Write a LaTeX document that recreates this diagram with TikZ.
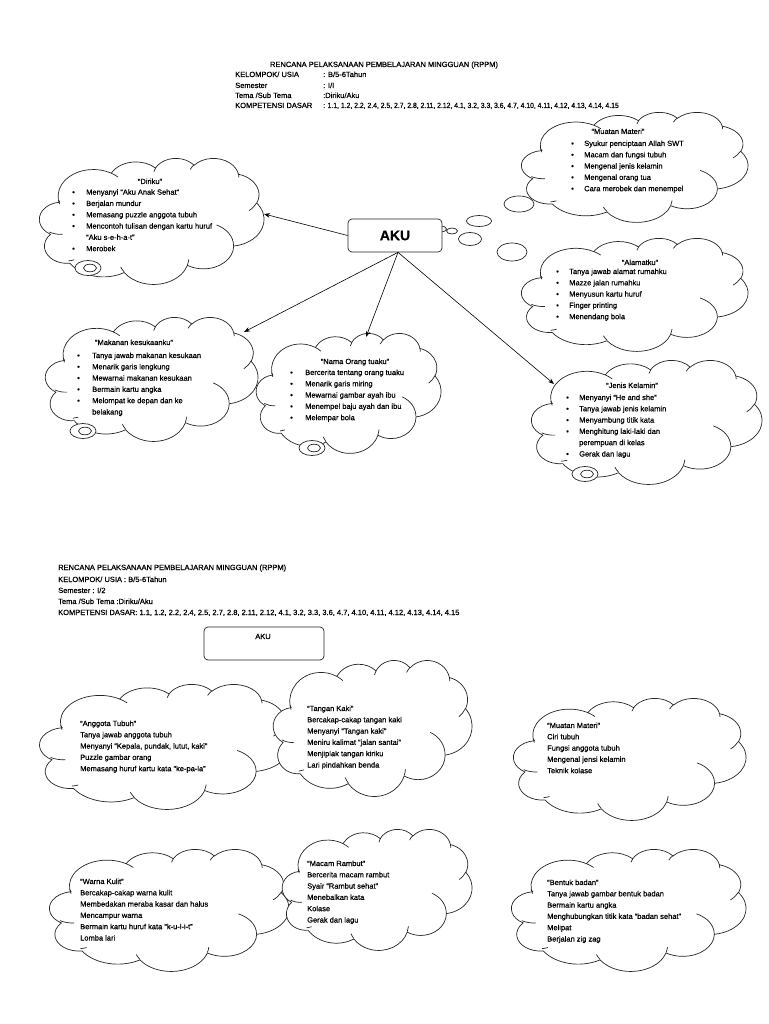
\documentclass[tikz,border=0pt]{standalone}
\usepackage{fontspec}
\setmainfont{Liberation Sans}[FakeBold=0.6]
\usetikzlibrary{arrows.meta}
\makeatletter
\newcommand\cprep[5]{%
  \pgfmathsetmacro\cp@a{atan2((#2)*sin(#4),(#3)*cos(#4))}%
  \pgfmathsetmacro\cp@b{atan2((#2)*sin((#4)+(#5)),(#3)*cos((#4)+(#5)))}%
  \pgfmathsetmacro\cp@d{mod(\cp@b-\cp@a+720,360)}%
  \expandafter\xdef\csname cS#1\endcsname{\cp@a}%
  \expandafter\xdef\csname cD#1\endcsname{\cp@d}%
}
\makeatother
\cprep{a}{67.53}{91.90}{-190.4875}{123.7805}
\cprep{b}{53.33}{72.67}{-144.1024}{89.9452}
\cprep{c}{43.65}{59.45}{-145.8079}{99.7230}
\cprep{d}{48.57}{65.95}{-130.9861}{117.2417}
\cprep{e}{53.33}{72.73}{-78.7089}{109.0269}
\cprep{f}{67.75}{92.20}{-46.2673}{130.2690}
\cprep{g}{57.85}{78.67}{0.6250}{114.0333}
\cprep{h}{67.52}{92.15}{22.4516}{115.1726}
\cprep{i}{77.20}{105.43}{66.2426}{71.2560}
\cprep{j}{43.60}{59.18}{-274.9421}{146.7356}
\cprep{k}{43.45}{59.45}{-246.8285}{152.5189}
\cprep{na}{43.45}{59.45}{86.7420}{26.4295}
\cprep{nb}{43.60}{59.18}{73.6105}{11.4475}
\cprep{nc}{67.52}{92.15}{137.6242}{14.0811}
\cprep{nd}{67.52}{92.15}{6.4533}{15.9984}
\cprep{ne}{57.85}{78.67}{-70.2924}{70.9174}
\cprep{nf}{53.33}{72.73}{30.3180}{27.7515}
\cprep{ng}{48.57}{65.95}{-13.7443}{14.8589}
\cprep{nh}{48.57}{65.95}{-149.1815}{18.1954}
\cprep{ni}{43.65}{59.45}{-163.4943}{17.6864}
\cprep{nj}{67.53}{91.90}{-66.7070}{12.3194}
\cprep{nk}{67.53}{91.90}{157.6544}{11.8582}
\newcommand\drawcloud[4]{%
  \pgfmathsetmacro\cwx{(#3)/432}%
  \pgfmathsetmacro\cwy{(#4)/432}%
  \begin{scope}[shift={(#1,#2)},x=\cwx pt,y=-\cwy pt]
    \draw[cloudline,fill=white] (39.00,143.70)
      arc[start angle=\cSa,delta angle=\cDa,x radius=67.53,y radius=91.90]
      arc[start angle=\cSb,delta angle=\cDb,x radius=53.33,y radius=72.67]
      arc[start angle=\cSc,delta angle=\cDc,x radius=43.65,y radius=59.45]
      arc[start angle=\cSd,delta angle=\cDd,x radius=48.57,y radius=65.95]
      arc[start angle=\cSe,delta angle=\cDe,x radius=53.33,y radius=72.73]
      arc[start angle=\cSf,delta angle=\cDf,x radius=67.75,y radius=92.20]
      arc[start angle=\cSg,delta angle=\cDg,x radius=57.85,y radius=78.67]
      arc[start angle=\cSh,delta angle=\cDh,x radius=67.52,y radius=92.15]
      arc[start angle=\cSi,delta angle=\cDi,x radius=77.20,y radius=105.43]
      arc[start angle=\cSj,delta angle=\cDj,x radius=43.60,y radius=59.18]
      arc[start angle=\cSk,delta angle=\cDk,x radius=43.45,y radius=59.45]
      -- cycle;
    \draw[cloudline]
      (46.93,261.77) arc[start angle=\cSna,delta angle=\cDna,x radius=43.45,y radius=59.45]
      (69.28,348.99) arc[start angle=\cSnb,delta angle=\cDnb,x radius=43.60,y radius=59.18]
      (164.78,390.90) arc[start angle=\cSnc,delta angle=\cDnc,x radius=67.52,y radius=92.15]
      (288.27,347.51) arc[start angle=\cSnd,delta angle=\cDnd,x radius=67.52,y radius=92.15]
      (341.29,229.54) arc[start angle=\cSne,delta angle=\cDne,x radius=57.85,y radius=78.67]
      (417.98,153.54) arc[start angle=\cSnf,delta angle=\cDnf,x radius=53.33,y radius=72.73]
      (383.24,54.26) arc[start angle=\cSng,delta angle=\cDng,x radius=48.57,y radius=65.95]
      (290.78,39.52) arc[start angle=\cSnh,delta angle=\cDnh,x radius=48.57,y radius=65.95]
      (221.41,47.20) arc[start angle=\cSni,delta angle=\cDni,x radius=43.65,y radius=59.45]
      (140.00,51.92) arc[start angle=\cSnj,delta angle=\cDnj,x radius=67.53,y radius=91.90]
      (41.27,157.89) arc[start angle=\cSnk,delta angle=\cDnk,x radius=67.53,y radius=91.90];
  \end{scope}}
\newcommand\tailbub[2]{%
  \draw[cloudline,fill=white] (#1,#2) ellipse[x radius=13,y radius=7.5];
  \draw[cloudline,fill=white] (#1+2,#2) ellipse[x radius=6.5,y radius=3.8];}
\begin{document}
\begin{tikzpicture}[x=1pt,y=-1pt,
  cloudline/.style={draw=black!85,line width=0.7pt},
  hdr/.style={font=\fontsize{7.5}{9}\selectfont,inner sep=0pt},
  ctext/.style={font=\fontsize{7.5}{11.3}\selectfont,inner sep=0pt,anchor=base west},
  ctitle/.style={font=\fontsize{7.5}{11.3}\selectfont,inner sep=0pt,anchor=base},
  akubox/.style={draw=black!85,line width=0.7pt,rounded corners=4pt,fill=white},
  arr/.style={draw=black,line width=0.6pt,-{Stealth[length=6pt,width=4.5pt]}}]
\fill[white] (0,0) rectangle (768,1024);
\useasboundingbox (0,0) rectangle (768,1024);

% ---------- top header ----------
\node[hdr,anchor=base] (h1title) at (384,67) {RENCANA PELAKSANAAN PEMBELAJARAN MINGGUAN (RPPM)};
\node[hdr,anchor=base west] (h1k) at (235,77) {KELOMPOK/ USIA};
\node[hdr,anchor=base west] (h1kv) at (323,77) {: B/5-6Tahun};
\node[hdr,anchor=base west] (h1s) at (235,88) {Semester};
\node[hdr,anchor=base west] (h1sv) at (323,88) {: I/I};
\node[hdr,anchor=base west] (h1t) at (235,98) {Tema /Sub Tema};
\node[hdr,anchor=base west] (h1tv) at (323,98) {:Diriku/Aku};
\node[hdr,anchor=base west] (h1d) at (235,108) {KOMPETENSI DASAR};
\node[hdr,anchor=base west] (h1dv) at (323,108) {\scalebox{0.91}[1]{: 1.1, 1.2, 2.2, 2.4, 2.5, 2.7, 2.8, 2.11, 2.12, 4.1, 3.2, 3.3, 3.6, 4.7, 4.10, 4.11, 4.12, 4.13, 4.14, 4.15}};

% ---------- tail bubbles pointing to AKU ----------
\draw[cloudline,fill=white] (519,204) ellipse[x radius=15,y radius=8];
\draw[cloudline,fill=white] (479,221) ellipse[x radius=12.5,y radius=5.5];
\draw[cloudline,fill=white] (452,231) ellipse[x radius=5.5,y radius=3];
\draw[cloudline,fill=white] (512,252) ellipse[x radius=15,y radius=9];
\draw[cloudline,fill=white] (470,239) ellipse[x radius=11.5,y radius=6.5];
\draw[cloudline,fill=white] (441,229) ellipse[x radius=5.5,y radius=3];

% ---------- top clouds ----------
\drawcloud{38}{158}{226}{126}
\drawcloud{520}{112}{228}{110}
\drawcloud{520}{238}{228}{113}
\drawcloud{44}{317}{214}{124}
\drawcloud{255}{333}{186}{120}
\drawcloud{530}{360}{232}{124}
\tailbub{88}{268}
\tailbub{83}{431}
\tailbub{312}{448}
\tailbub{585}{474}

% ---------- AKU ----------
\node[akubox,minimum width=94pt,minimum height=33pt,font=\fontsize{14}{16}\selectfont\bfseries] (aku) at (395,235.5) {AKU};
\coordinate (tipDiriku) at (264,214);
\coordinate (tipMakanan) at (244,332);
\coordinate (tipNama) at (366,337);
\coordinate (tipJenis) at (554,384);
\draw[arr] (aku.west) -- (tipDiriku);
\draw[arr] ([xshift=3pt]aku.south) -- (tipMakanan);
\draw[arr] ([xshift=3pt]aku.south) -- (tipNama);
\draw[arr] ([xshift=3pt]aku.south) -- (tipJenis);

% ---------- top cloud texts ----------
\node[ctitle] (c1t) at (150,184) {“Diriku”};
\node[ctext] (c1) at (72,194.7) {\begin{tabular}[t]{@{}p{14pt}@{}l@{}}
\textbullet & Menyanyi “Aku Anak Sehat”\\
\textbullet & Berjalan mundur\\
\textbullet & Memasang puzzle anggota tubuh\\
\textbullet & Mencontoh tulisan dengan kartu huruf\\
 & “Aku s-e-h-a-t”\\
\textbullet & Merobek\end{tabular}};

\node[ctitle] (c2t) at (618,134) {“Muatan Materi”};
\node[ctext] (c2) at (571,146) {\begin{tabular}[t]{@{}p{13pt}@{}l@{}}
\textbullet & Syukur penciptaan Allah SWT\\
\textbullet & Macam dan fungsi tubuh\\
\textbullet & Mengenal jenis kelamin\\
\textbullet & Mengenal orang tua\\
\textbullet & Cara merobek dan menempel\end{tabular}};

\node[ctitle] (c3t) at (640,265) {“Alamatku”};
\node[ctext] (c3) at (556,274) {\begin{tabular}[t]{@{}p{13pt}@{}l@{}}
\textbullet & Tanya jawab alamat rumahku\\
\textbullet & Mazze jalan rumahku\\
\textbullet & Menyusun kartu huruf\\
\textbullet & Finger printing\\
\textbullet & Menendang bola\end{tabular}};

\node[ctitle] (c4t) at (134,345) {“Makanan kesukaanku”};
\node[ctext] (c4) at (77,358) {\begin{tabular}[t]{@{}p{15pt}@{}l@{}}
\textbullet & Tanya jawab makanan kesukaan\\
\textbullet & Menarik garis lengkung\\
\textbullet & Mewarnai makanan kesukaan\\
\textbullet & Bermain kartu angka\\
\textbullet & Melompat ke depan dan ke\\
 & belakang\end{tabular}};

\node[ctitle] (c5t) at (355,364) {“Nama Orang tuaku”};
\node[ctext] (c5) at (290,375) {\begin{tabular}[t]{@{}p{15pt}@{}l@{}}
\textbullet & Bercerita tentang orang tuaku\\
\textbullet & Menarik garis miring\\
\textbullet & Mewarnai gambar ayah ibu\\
\textbullet & Menempel baju ayah dan ibu\\
\textbullet & Melempar bola\end{tabular}};

\node[ctitle] (c6t) at (632,388) {“Jenis Kelamin”};
\node[ctext] (c6) at (566,400) {\begin{tabular}[t]{@{}p{13pt}@{}l@{}}
\textbullet & Menyanyi “He and she”\\
\textbullet & Tanya jawab jenis kelamin\\
\textbullet & Menyambung titik kata\\
\textbullet & Menghitung laki-laki dan\\
 & perempuan di kelas\\
\textbullet & Gerak dan lagu\end{tabular}};

% ---------- bottom header ----------
\node[hdr,anchor=base west] (h2a) at (58,570) {RENCANA PELAKSANAAN PEMBELAJARAN MINGGUAN (RPPM)};
\node[hdr,anchor=base west] (h2b) at (58,582) {KELOMPOK/ USIA : B/5-6Tahun};
\node[hdr,anchor=base west] (h2c) at (58,593) {Semester : I/2};
\node[hdr,anchor=base west] (h2d) at (58,604) {Tema /Sub Tema :Diriku/Aku};
\node[hdr,anchor=base west] (h2e) at (58,615) {KOMPETENSI DASAR: 1.1, 1.2, 2.2, 2.4, 2.5, 2.7, 2.8, 2.11, 2.12, 4.1, 3.2, 3.3, 3.6, 4.7, 4.10, 4.11, 4.12, 4.13, 4.14, 4.15};

\node[akubox,minimum width=120pt,minimum height=33pt] (aku2) at (264,643.5) {};
\node[hdr,anchor=base] (aku2t) at (263,639) {AKU};

% ---------- bottom clouds ----------
\drawcloud{38}{684}{252}{125}
\drawcloud{272}{660}{200}{136}
\drawcloud{512}{698}{234}{122}
\drawcloud{48}{849}{241}{122}
\drawcloud{281}{829}{191}{121}
\drawcloud{510}{849}{236}{122}

\node[ctext] (b1) at (80,726) {\begin{tabular}[t]{@{}l@{}}
“Anggota Tubuh”\\
Tanya jawab anggota tubuh\\
Menyanyi “Kepala, pundak, lutut, kaki”\\
Puzzle gambar orang\\
Memasang huruf kartu kata “ke-pa-la”\end{tabular}};

\node[ctext] (b2) at (307,711) {\begin{tabular}[t]{@{}l@{}}
“Tangan Kaki”\\
Bercakap-cakap tangan kaki\\
Menyanyi “Tangan kaki”\\
Meniru kalimat “jalan santai”\\
Menjiplak tangan kiriku\\
Lari pindahkan benda\end{tabular}};

\node[ctext] (b3) at (547,728) {\begin{tabular}[t]{@{}l@{}}
“Muatan Materi”\\
Ciri tubuh\\
Fungsi anggota tubuh\\
Mengenal jensi kelamin\\
Teknik kolase\end{tabular}};

\node[ctext] (b4) at (80,884) {\begin{tabular}[t]{@{}l@{}}
“Warna Kulit”\\
Bercakap-cakap warna kulit\\
Membedakan meraba kasar dan halus\\
Mencampur warna\\
Bermain kartu huruf kata “k-u-l-i-t”\\
Lomba lari\end{tabular}};

\node[ctext] (b5) at (307,866) {\begin{tabular}[t]{@{}l@{}}
“Macam Rambut”\\
Bercerita macam rambut\\
Syair “Rambut sehat”\\
Menebalkan kata\\
Kolase\\
Gerak dan lagu\end{tabular}};

\node[ctext] (b6) at (547,885) {\begin{tabular}[t]{@{}l@{}}
“Bentuk badan”\\
Tanya jawab gambar bentuk badan\\
Bermain kartu angka\\
Menghubungkan titik kata “badan sehat”\\
Melipat\\
Berjalan zig zag\end{tabular}};
\end{tikzpicture}
\end{document}
